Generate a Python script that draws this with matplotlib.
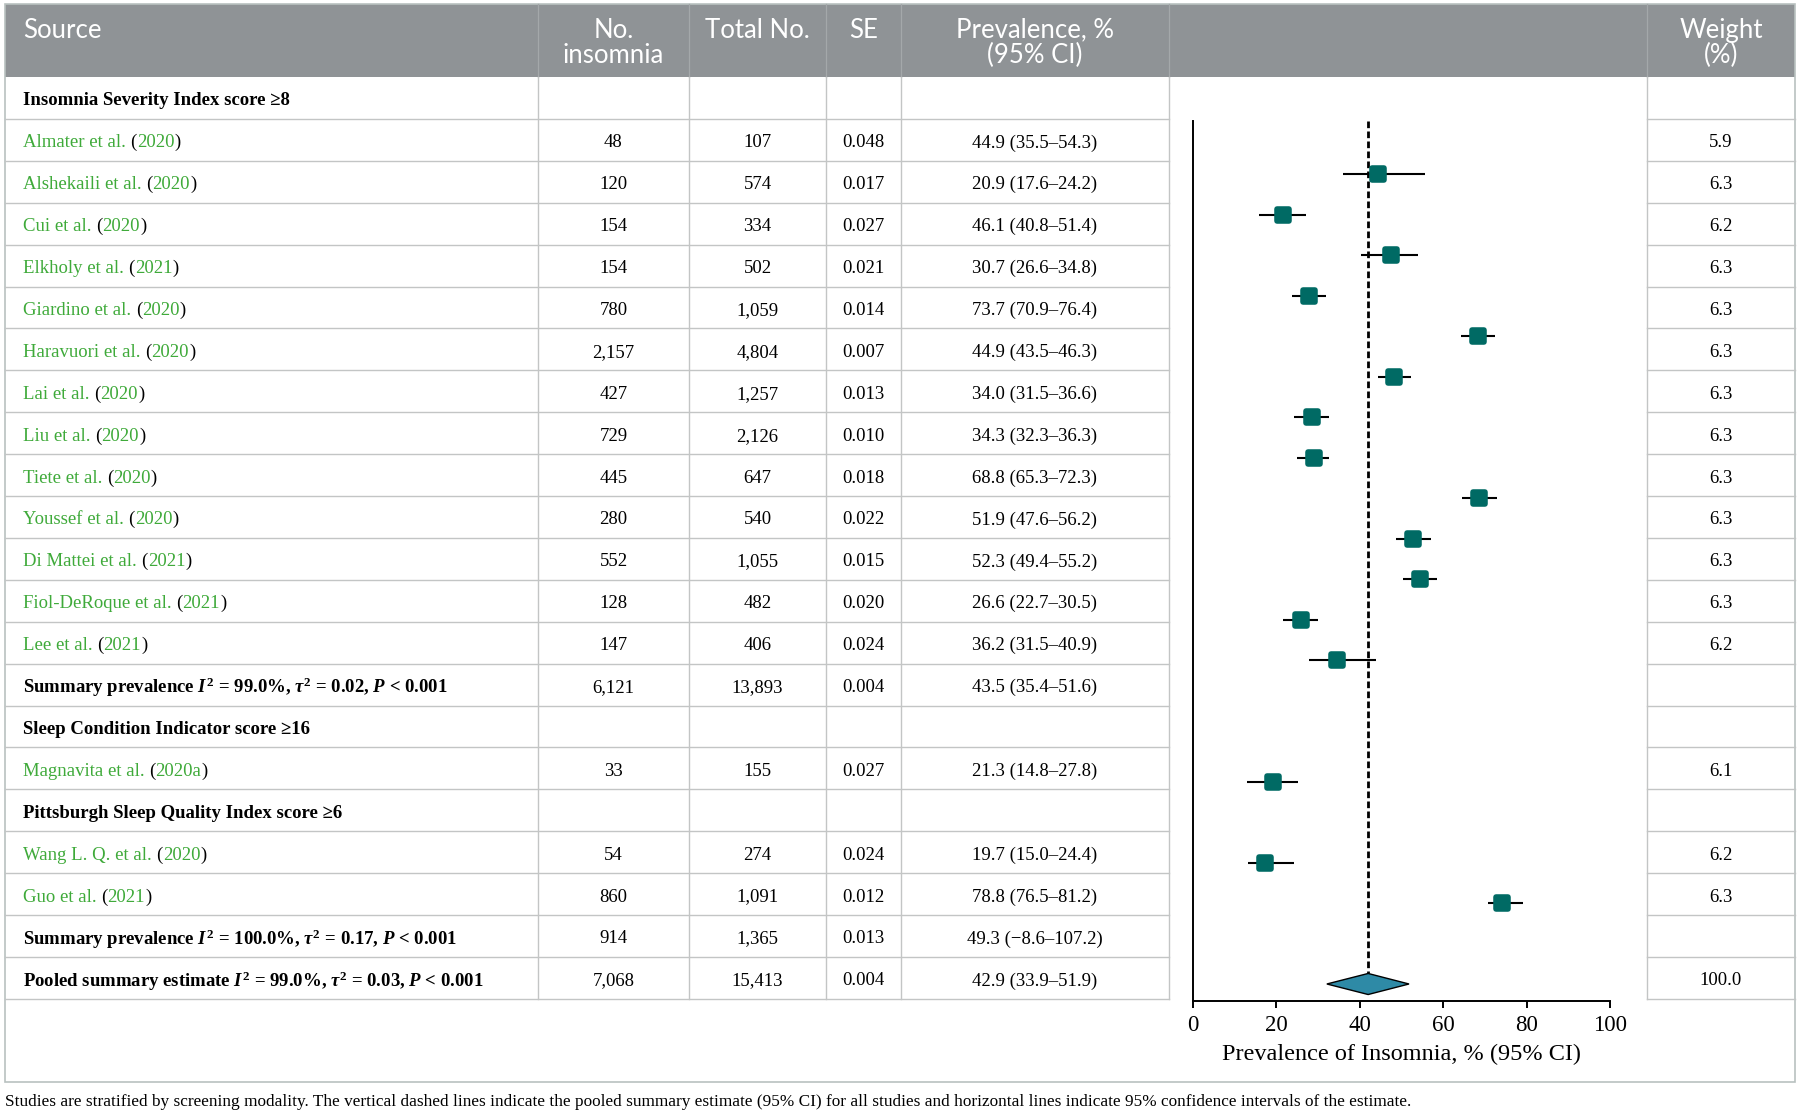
import matplotlib
matplotlib.use("Agg")
import matplotlib.pyplot as plt
from matplotlib.patches import Rectangle, Polygon
from matplotlib.markers import MarkerStyle

plt.rcParams["font.family"] = ["Liberation Serif", "DejaVu Serif"]
plt.rcParams["mathtext.fontset"] = "custom"
plt.rcParams["mathtext.rm"] = "Liberation Serif:bold"
plt.rcParams["mathtext.bf"] = "Liberation Serif:bold"
plt.rcParams["mathtext.it"] = "Liberation Serif:italic:bold"

# ---- table data (one entry per body row) ----
row_kind = ["group", "study", "study", "study", "study", "study", "study", "study",
            "study", "study", "study", "study", "study", "study", "summary",
            "group", "study", "group", "study", "study", "summary", "summary"]
row_label = ["Insomnia Severity Index score ≥8",
             "Almater et al.", "Alshekaili et al.", "Cui et al.", "Elkholy et al.",
             "Giardino et al.", "Haravuori et al.", "Lai et al.", "Liu et al.",
             "Tiete et al.", "Youssef et al.", "Di Mattei et al.", "Fiol-DeRoque et al.",
             "Lee et al.",
             r"Summary prevalence $I^{2}$ = 99.0%, $\tau^{2}$ = 0.02, $P$ < 0.001",
             "Sleep Condition Indicator score ≥16",
             "Magnavita et al.",
             "Pittsburgh Sleep Quality Index score ≥6",
             "Wang L. Q. et al.", "Guo et al.",
             r"Summary prevalence $I^{2}$ = 100.0%, $\tau^{2}$ = 0.17, $P$ < 0.001",
             r"Pooled summary estimate $I^{2}$ = 99.0%, $\tau^{2}$ = 0.03, $P$ < 0.001"]
row_year = [None, "2020", "2020", "2020", "2021", "2020", "2020", "2020", "2020", "2020",
            "2020", "2021", "2021", "2021", None, None, "2020a", None, "2020", "2021",
            None, None]
n_insomnia = [None, 48, 120, 154, 154, 780, 2157, 427, 729, 445, 280, 552, 128, 147, 6121,
              None, 33, None, 54, 860, 914, 7068]
total_n = [None, 107, 574, 334, 502, 1059, 4804, 1257, 2126, 647, 540, 1055, 482, 406, 13893,
           None, 155, None, 274, 1091, 1365, 15413]
se = [None, 0.048, 0.017, 0.027, 0.021, 0.014, 0.007, 0.013, 0.010, 0.018, 0.022, 0.015,
      0.020, 0.024, 0.004, None, 0.027, None, 0.024, 0.012, 0.013, 0.004]
prev = [None, 44.9, 20.9, 46.1, 30.7, 73.7, 44.9, 34.0, 34.3, 68.8, 51.9, 52.3, 26.6, 36.2,
        43.5, None, 21.3, None, 19.7, 78.8, 49.3, 42.9]
prev_lo = [None, 35.5, 17.6, 40.8, 26.6, 70.9, 43.5, 31.5, 32.3, 65.3, 47.6, 49.4, 22.7, 31.5,
           35.4, None, 14.8, None, 15.0, 76.5, -8.6, 33.9]
prev_hi = [None, 54.3, 24.2, 51.4, 34.8, 76.4, 46.3, 36.6, 36.3, 72.3, 56.2, 55.2, 30.5, 40.9,
           51.6, None, 27.8, None, 24.4, 81.2, 107.2, 51.9]
weight = [None, 5.9, 6.3, 6.2, 6.3, 6.3, 6.3, 6.3, 6.3, 6.3, 6.3, 6.3, 6.3, 6.2, None,
          None, 6.1, None, 6.2, 6.3, None, 100.0]

# ---- values as drawn in the plot panel ----
forest_est = [44.4, 21.6, 47.6, 27.9, 68.4, 48.3, 28.5, 29.0, 68.6, 52.8, 54.4, 25.8, 34.6,
              19.1, 17.3, 74.2]
forest_lo = [35.9, 15.9, 40.2, 23.8, 64.3, 44.3, 24.3, 24.9, 64.5, 48.7, 50.3, 21.6, 27.7,
             12.9, 13.1, 70.8]
forest_hi = [55.7, 27.0, 54.0, 31.9, 72.4, 52.3, 32.5, 32.6, 72.8, 57.0, 58.4, 30.0, 44.0,
             25.2, 24.3, 79.2]
pooled_est, pooled_lo, pooled_hi = 42.0, 32.1, 51.8

headers = ["Source", "No.\ninsomnia", "Total No.", "SE", "Prevalence, %\n(95% CI)", "", "Weight\n(%)"]
caption = ("Studies are stratified by screening modality. The vertical dashed lines indicate the "
           "pooled summary estimate (95% CI) for all studies and horizontal lines indicate 95% "
           "confidence intervals of the estimate.")

# ---- layout (pixels) ----
W, H = 1802, 1115
col_x = [5, 538, 689, 826, 901, 1169, 1647, 1795]
head_top, head_bot = 4, 77
row_h = 41.9
n_rows = len(row_kind)
table_bot = head_bot + n_rows * row_h
frame_bot = 1082

header_gray = "#8f9396"
grid_col = "#c3c5c5"
green = "#3faa3a"
teal = "#006a64"
diamond_col = "#2e8aa6"
serif = "Liberation Serif"
body_fs = 13.5

fig = plt.figure(figsize=(W / 100, H / 100), dpi=100)
ax = fig.add_axes([0, 0, 1, 1])
ax.set_xlim(0, W)
ax.set_ylim(H, 0)
ax.axis("off")

# header band
ax.add_patch(Rectangle((col_x[0], head_top), col_x[-1] - col_x[0], head_bot - head_top,
                       facecolor=header_gray, edgecolor="none"))
for x in col_x[1:-1]:
    ax.plot([x, x], [head_top, head_bot], color="#a4a8aa", lw=0.9)

# outer frame
ax.add_patch(Rectangle((col_x[0], head_top), col_x[-1] - col_x[0], frame_bot - head_top,
                       facecolor="none", edgecolor="#b9c1c0", lw=1.2))

# grid lines (no lines inside the plot column)
for k in range(1, n_rows + 1):
    y = head_bot + k * row_h
    ax.plot([col_x[0], col_x[5]], [y, y], color=grid_col, lw=1.0)
    ax.plot([col_x[6], col_x[7]], [y, y], color=grid_col, lw=1.0)
for x in col_x[1:-1]:
    ax.plot([x, x], [head_bot, table_bot], color=grid_col, lw=1.0)

# header text
for i, h in enumerate(headers):
    if not h:
        continue
    nlines = h.count("\n") + 1
    yc = 31 if nlines == 1 else 43
    if i == 0:
        ax.text(23, yc, h, ha="left", va="center", color="white",
                fontsize=18.5, family="Lato")
    else:
        xc = (col_x[i] + col_x[i + 1]) / 2
        ax.text(xc, yc, h, ha="center", va="center", color="white", fontsize=18.5,
                family="Lato", linespacing=1.02, multialignment="center")


def fmt(v):
    return f"{v:.1f}".replace("-", "−")


# body rows
for k in range(n_rows):
    yc = head_bot + (k + 0.5) * row_h + 3
    kind = row_kind[k]
    if kind == "study":
        t = ax.text(23, yc, row_label[k], ha="left", va="center", color=green,
                    fontsize=body_fs, family=serif)
        t = ax.annotate("(", xy=(1, 0), xycoords=t, xytext=(3.4, 0),
                        textcoords="offset points", va="bottom", color="black",
                        fontsize=body_fs, family=serif)
        t = ax.annotate(row_year[k], xy=(1, 0), xycoords=t, va="bottom", color=green,
                        fontsize=body_fs, family=serif)
        ax.annotate(")", xy=(1, 0), xycoords=t, va="bottom", color="black",
                    fontsize=body_fs, family=serif)
    else:
        ax.text(23, yc, row_label[k], ha="left", va="center", color="black",
                fontsize=body_fs, family=serif, fontweight="bold")
    if n_insomnia[k] is not None:
        cells = [f"{n_insomnia[k]:,}", f"{total_n[k]:,}", f"{se[k]:.3f}",
                 f"{prev[k]:.1f} ({fmt(prev_lo[k])}–{fmt(prev_hi[k])})"]
        for j, s in enumerate(cells):
            xc = (col_x[j + 1] + col_x[j + 2]) / 2
            ax.text(xc, yc, s, ha="center", va="center", fontsize=body_fs, family=serif)
    if weight[k] is not None:
        ax.text((col_x[6] + col_x[7]) / 2, yc, f"{weight[k]:.1f}", ha="center", va="center",
                fontsize=body_fs, family=serif)

ax.text(col_x[0], 1102, caption, ha="left", va="center", fontsize=12.45, family=serif)

# ---- forest panel ----
ax_l, ax_r, ax_t, ax_b = 1193, 1610, 121, 1001
fax = fig.add_axes([ax_l / W, (H - ax_b) / H, (ax_r - ax_l) / W, (ax_b - ax_t) / H])
fax.set_facecolor("none")
fax.set_xlim(0, 100)
fax.set_ylim(20.42, -1.31)
for s in ["top", "right"]:
    fax.spines[s].set_visible(False)
fax.spines["left"].set_linewidth(1.4)
fax.spines["bottom"].set_linewidth(1.4)
fax.set_yticks([])
ticks = [0, 20, 40, 60, 80, 100]
fax.set_xticks(ticks)
fax.set_xticklabels([str(t) for t in ticks], fontfamily=serif, fontsize=16.5)
fax.tick_params(axis="x", direction="out", length=5, width=1.4, pad=5)
fax.set_xlabel("Prevalence of Insomnia, % (95% CI)", fontsize=17.5, family=serif, labelpad=6)

slots = [k - 1 for k in range(n_rows) if row_kind[k] == "study"]
fax.hlines(slots, forest_lo, forest_hi, color="black", lw=1.5, zorder=2)
fax.plot(forest_est, slots, ls="none", marker=MarkerStyle("s", joinstyle="round"),
         ms=8.5, mew=4, mfc=teal, mec=teal, zorder=3)

pooled_slot = n_rows - 2
dh = 0.26
fax.plot([pooled_est, pooled_est], [-1.31, pooled_slot - dh], color="black", lw=2,
         ls=(0, (2.4, 1.2)), zorder=1)
fax.add_patch(Polygon([(pooled_lo, pooled_slot), (pooled_est, pooled_slot - dh),
                       (pooled_hi, pooled_slot), (pooled_est, pooled_slot + dh)],
                      closed=True, facecolor=diamond_col, edgecolor="black", lw=1, zorder=3))

fig.savefig("out.png", dpi=100)
